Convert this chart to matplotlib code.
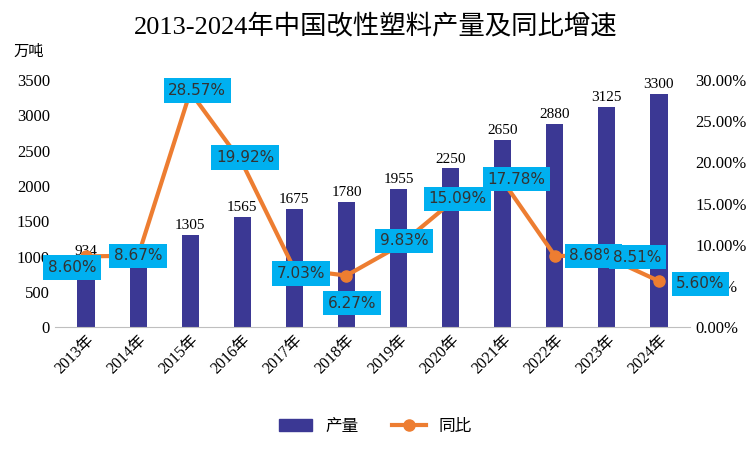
import matplotlib.pyplot as plt
from matplotlib import font_manager as fm
from matplotlib.ticker import FuncFormatter

cjk_names = sorted({f.name for f in fm.fontManager.ttflist if 'CJK' in f.name})
cjk = next((n for n in cjk_names if 'CJK SC' in n), cjk_names[0] if cjk_names else 'DejaVu Sans')
plt.rcParams['font.family'] = ['Liberation Serif', cjk]

years = ['2013年', '2014年', '2015年', '2016年', '2017年', '2018年', '2019年',
         '2020年', '2021年', '2022年', '2023年', '2024年']
output = [934, 1015, 1305, 1565, 1675, 1780, 1955, 2250, 2650, 2880, 3125, 3300]
growth = [8.60, 8.67, 28.57, 19.92, 7.03, 6.27, 9.83, 15.09, 17.78, 8.68, 8.51, 5.60]
bar_labels = ['934', '', '1305', '1565', '1675', '1780', '1955', '2250', '2650', '2880', '3125', '3300']
# label offsets in points (dx, dy)
offsets = [(-10, -8), (0, 0), (5, 1), (2, 4), (5, -3), (4, -20), (4, 4), (5, 3), (10, 1), (28, 0), (22, 0), (30, -2)]

fig = plt.figure(figsize=(7.51, 4.5), dpi=100)
ax = fig.add_axes([0.073, 0.273, 0.846, 0.549])
x = range(len(years))
ax.bar(x, output, width=0.33, color='#3B3894', zorder=2)
for i, t in enumerate(bar_labels):
    if t:
        ax.text(i, output[i] + 40, t, ha='center', va='bottom', fontsize=11)
ax.set_ylim(0, 3500)
ax.set_yticks(range(0, 3501, 500))
ax.set_xlim(-0.6, 11.6)
ax.set_xticks(list(x))
ax.set_xticklabels(years, rotation=45, ha='right', rotation_mode='anchor', fontsize=11.5)
ax.tick_params(axis='y', labelsize=12, length=0)
ax.tick_params(axis='x', length=0)
for s in ['top', 'right', 'left']:
    ax.spines[s].set_visible(False)
ax.spines['bottom'].set_color('#BFBFBF')
ax.text(-0.065, 1.1, '万吨', transform=ax.transAxes, fontsize=11, family=cjk)

ax2 = ax.twinx()
ax2.plot(x, growth, color='#ED7D31', lw=3, marker='o', ms=8, zorder=3)
ax2.set_ylim(0, 30)
ax2.set_yticks(range(0, 31, 5))
ax2.yaxis.set_major_formatter(FuncFormatter(lambda v, p: f'{v:.2f}%'))
ax2.tick_params(labelsize=12, length=0)
for s in ax2.spines.values():
    s.set_visible(False)
for i, g in enumerate(growth):
    ax2.annotate(f'{g:.2f}%', (i, g), xytext=offsets[i], textcoords='offset points',
                 ha='center', va='center', fontsize=11, family='DejaVu Sans', color='#333333',
                 bbox=dict(boxstyle='square,pad=0.3', fc='#00B0F0', ec='none'), zorder=5)

fig.suptitle('2013-2024年中国改性塑料产量及同比增速', y=0.97, fontsize=19)
h1 = plt.Rectangle((0, 0), 1, 1, color='#3B3894')
h2, = ax2.plot([], [], color='#ED7D31', lw=3, marker='o', ms=8)
fig.legend([h1, h2], ['产量', '同比'], loc='lower center', ncol=2, frameon=False,
           prop={'size': 12, 'family': cjk}, bbox_to_anchor=(0.5, 0.0), columnspacing=2)
fig.savefig('out.png')
